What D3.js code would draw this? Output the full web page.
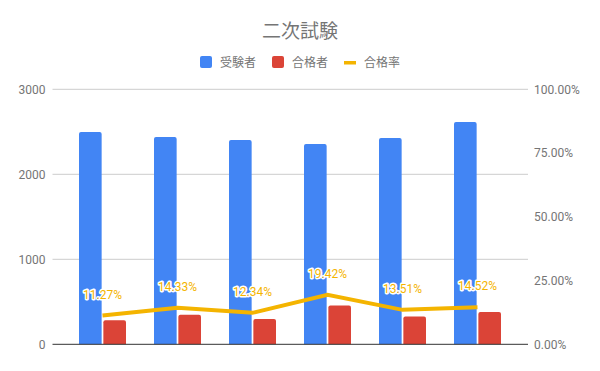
<!DOCTYPE html>
<html>
<head>
<meta charset="utf-8">
<script src="https://cdn.jsdelivr.net/npm/d3@7"></script>
<style>
  body { margin: 0; background: #fff; }
  text { font-family: Roboto, "Noto Sans CJK JP", sans-serif; }
</style>
</head>
<body>
<svg width="600" height="371"></svg>
<script>
var title = "二次試験";
var categories = ["1", "2", "3", "4", "5", "6"];
var seriesNames = ["受験者", "合格者", "合格率"];
var examinees = [2498, 2439, 2404, 2356, 2427, 2615];
var passed = [282, 349, 297, 457, 328, 380];
var passRate = [0.1127, 0.1433, 0.1234, 0.1942, 0.1351, 0.1452];
var leftTicks = [0, 1000, 2000, 3000];
var rightTicks = [0, 0.25, 0.5, 0.75, 1];

var colors = ["#4285f4", "#db4437", "#f4b400"];

var svg = d3.select("svg");
var width = +svg.attr("width");

var plotLeft = 52.5, plotRight = 528, plotTop = 89.3, plotBottom = 344.3;

var x = d3.scaleBand()
    .domain(categories)
    .range([65, 515])
    .padding(0);

var x1 = d3.scaleBand()
    .domain([0, 1])
    .range([14, 61])
    .paddingInner(0.07);

var yLeft = d3.scaleLinear().domain([0, 3000]).range([plotBottom, plotTop]);
var yRight = d3.scaleLinear().domain([0, 1]).range([plotBottom, plotTop]);

// title
svg.append("text")
    .attr("x", width / 2)
    .attr("y", 37.5)
    .attr("text-anchor", "middle")
    .style("font-size", "19px")
    .style("fill", "#757575")
    .text(title);

// legend
var legend = svg.append("g").attr("transform", "translate(200,56)");
seriesNames.forEach(function (name, i) {
    var g = legend.append("g").attr("transform", "translate(" + (i * 72) + ",0)");
    if (i < 2) {
        g.append("rect")
            .attr("width", 12).attr("height", 12)
            .attr("rx", 2)
            .attr("fill", colors[i]);
    } else {
        g.append("rect")
            .attr("y", 5).attr("width", 12).attr("height", 3.5)
            .attr("fill", colors[i]);
    }
    g.append("text")
        .attr("x", 20)
        .attr("y", 10.5)
        .style("font-size", "12px")
        .style("fill", "#757575")
        .text(name);
});

// left axis + gridlines
var leftAxis = svg.append("g")
    .attr("transform", "translate(" + plotLeft + ",0)")
    .call(d3.axisLeft(yLeft).tickValues(leftTicks).tickSize(0).tickPadding(7)
        .tickFormat(d3.format("d")));
leftAxis.select(".domain").remove();
leftAxis.selectAll("text").style("font-size", "12px").style("fill", "#757575")
    .style("font-family", "Roboto, sans-serif");

svg.append("g").selectAll("line")
    .data(leftTicks.filter(function (d) { return d > 0; }))
    .enter().append("line")
    .attr("x1", plotLeft).attr("x2", plotRight)
    .attr("y1", function (d) { return yLeft(d); })
    .attr("y2", function (d) { return yLeft(d); })
    .attr("stroke", "#cccccc")
    .attr("stroke-width", 1);

// right axis
var rightAxis = svg.append("g")
    .attr("transform", "translate(" + plotRight + ",0)")
    .call(d3.axisRight(yRight).tickValues(rightTicks).tickSize(0).tickPadding(6)
        .tickFormat(d3.format(".2%")));
rightAxis.select(".domain").remove();
rightAxis.selectAll("text").style("font-size", "12px").style("fill", "#757575")
    .style("font-family", "Roboto, sans-serif");

// bars
function barPath(x0, y0, w, h, r) {
    r = Math.min(r, h);
    return "M" + x0 + "," + (y0 + h) +
        "V" + (y0 + r) +
        "Q" + x0 + "," + y0 + " " + (x0 + r) + "," + y0 +
        "H" + (x0 + w - r) +
        "Q" + (x0 + w) + "," + y0 + " " + (x0 + w) + "," + (y0 + r) +
        "V" + (y0 + h) + "Z";
}

var groups = svg.append("g").selectAll("g")
    .data(categories)
    .enter().append("g")
    .attr("transform", function (d) { return "translate(" + x(d) + ",0)"; });

groups.append("path")
    .attr("fill", colors[0])
    .attr("d", function (d, i) {
        var y0 = yLeft(examinees[i]);
        return barPath(x1(0), y0, x1.bandwidth(), plotBottom - y0, 2);
    });

groups.append("path")
    .attr("fill", colors[1])
    .attr("d", function (d, i) {
        var y0 = yLeft(passed[i]);
        return barPath(x1(1), y0, x1.bandwidth(), plotBottom - y0, 2);
    });

// baseline
svg.append("line")
    .attr("x1", plotLeft).attr("x2", plotRight)
    .attr("y1", plotBottom).attr("y2", plotBottom)
    .attr("stroke", "#333333")
    .attr("stroke-width", 1);

// rate line
var line = d3.line()
    .x(function (d, i) { return x(categories[i]) + x.bandwidth() / 2; })
    .y(function (d) { return yRight(d); });

svg.append("path")
    .datum(passRate)
    .attr("fill", "none")
    .attr("stroke", colors[2])
    .attr("stroke-width", 4)
    .attr("d", line);

// rate labels
svg.append("g").selectAll("text")
    .data(passRate)
    .enter().append("text")
    .attr("x", function (d, i) { return x(categories[i]) + x.bandwidth() / 2; })
    .attr("y", function (d) { return yRight(d) - 17; })
    .attr("text-anchor", "middle")
    .style("font-size", "12px")
    .style("fill", colors[2])
    .style("stroke", "#ffffff")
    .style("stroke-width", 3)
    .style("stroke-linejoin", "round")
    .style("paint-order", "stroke")
    .text(function (d) { return d3.format(".2%")(d); });
</script>
</body>
</html>
